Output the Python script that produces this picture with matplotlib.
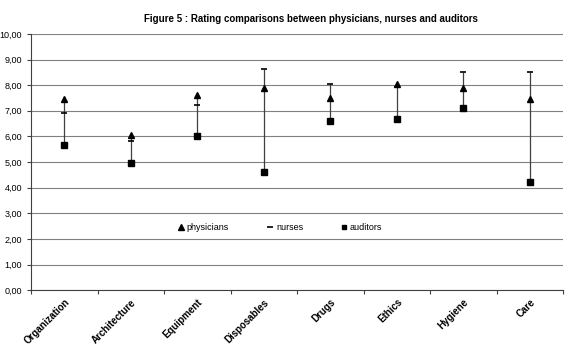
import matplotlib
matplotlib.use("Agg")
import matplotlib.pyplot as plt
import numpy as np
from matplotlib.ticker import FuncFormatter, FixedLocator

plt.rcParams["font.family"] = ["Liberation Sans", "DejaVu Sans"]

categories = ["Organization", "Architecture", "Equipment", "Disposables",
              "Drugs", "Ethics", "Hygiene", "Care"]
physicians = [7.46, 6.05, 7.63, 7.89, 7.50, 8.05, 7.88, 7.44]
nurses = [6.93, 5.82, 7.23, 8.64, 8.06, 7.91, 8.51, 8.53]
auditors = [5.67, 4.98, 6.00, 4.63, 6.61, 6.67, 7.10, 4.21]

fig = plt.figure(figsize=(5.66, 3.53), dpi=100)
ax = fig.add_axes([0.055, 0.178, 0.94, 0.726])

x = np.arange(len(categories))
data = np.array([physicians, nurses, auditors])
ax.vlines(x, data.min(axis=0), data.max(axis=0), color="#404040", lw=0.9, zorder=2)

ax.plot(x, physicians, ls="none", marker="^", ms=5, color="black", label="physicians", zorder=3)
ax.plot(x, nurses, ls="none", marker="_", ms=5, mew=1.2, color="black", label="nurses", zorder=3)
ax.plot(x, auditors, ls="none", marker="s", ms=4.2, color="black", label="auditors", zorder=3)

ax.set_xlim(-0.5, len(categories) - 0.5)
ax.set_ylim(0, 10)
ax.set_yticks(np.arange(0, 11, 1))
ax.yaxis.set_major_formatter(FuncFormatter(lambda v, p: f"{v:.2f}".replace(".", ",")))
ax.grid(axis="y", color="#808080", lw=0.8)
ax.set_axisbelow(True)

ax.set_xticks(x)
ax.set_xticklabels(categories, rotation=45, ha="right", rotation_mode="anchor",
                   fontsize=7, fontweight="bold")
ax.xaxis.set_minor_locator(FixedLocator(np.arange(-0.5, len(categories), 1)))
ax.tick_params(axis="x", which="major", length=0, pad=5)
ax.tick_params(axis="x", which="minor", length=3, width=0.8, color="#404040")
ax.tick_params(axis="y", length=3, width=0.8, labelsize=6.5, color="#404040")

for s in ["top", "right"]:
    ax.spines[s].set_visible(False)
for s in ["left", "bottom"]:
    ax.spines[s].set_color("#404040")
    ax.spines[s].set_linewidth(0.8)

ax.legend(loc="center", bbox_to_anchor=(0.468, 0.245), ncol=3, frameon=False,
          fontsize=6.5, handlelength=0.7, handletextpad=0.3, columnspacing=4.2,
          markerscale=0.75)

fig.text(0.55, 0.945, "Figure 5 : Rating comparisons between physicians, nurses and auditors",
         ha="center", va="center", fontsize=7, fontweight="bold")

fig.savefig("out.png", dpi=100)
